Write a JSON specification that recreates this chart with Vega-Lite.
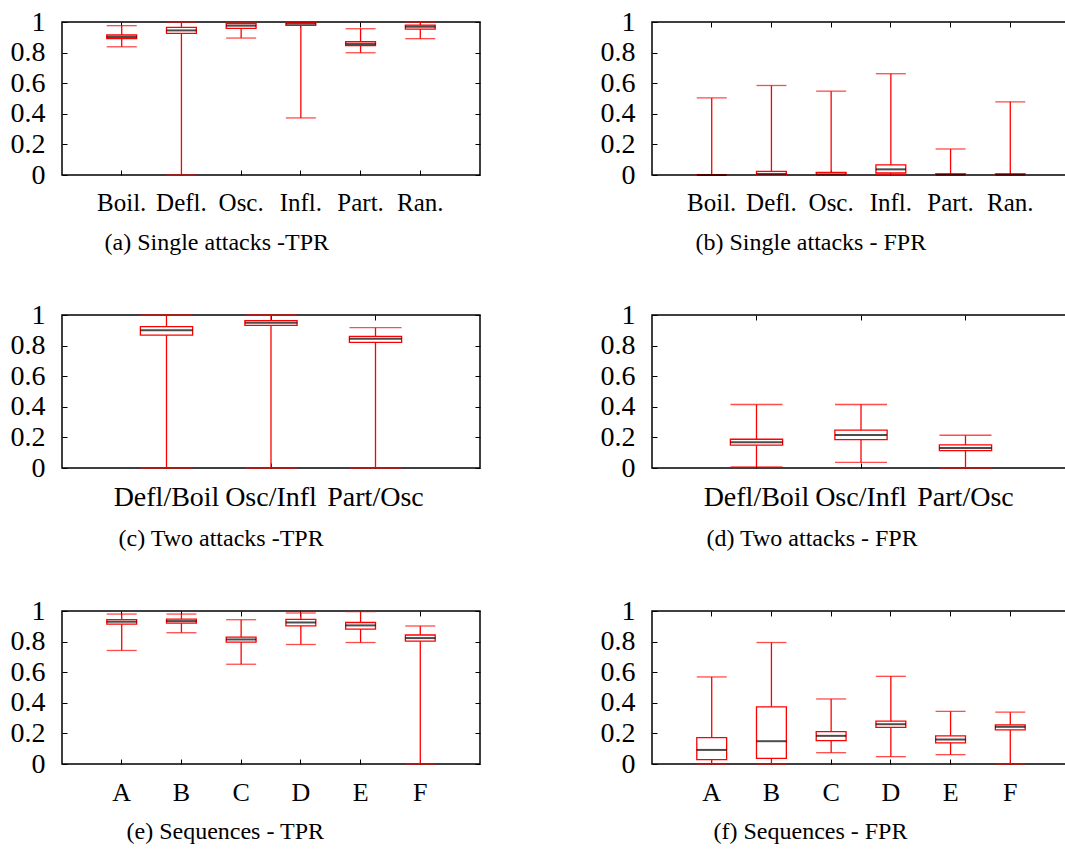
{
  "$schema": "https://vega.github.io/schema/vega-lite/v6.json",
  "padding": {"left": 9, "top": 7, "right": 0, "bottom": 0},
  "background": "white",
  "datasets": {
    "a": [
      {"cat": "Boil.", "lo": 0.838, "q1": 0.891, "med": 0.902, "q3": 0.915, "hi": 0.976},
      {"cat": "Defl.", "lo": 0.0, "q1": 0.926, "med": 0.945, "q3": 0.965, "hi": 1.0},
      {"cat": "Osc.", "lo": 0.895, "q1": 0.958, "med": 0.976, "q3": 0.989, "hi": 1.0},
      {"cat": "Infl.", "lo": 0.373, "q1": 0.978, "med": 0.989, "q3": 0.998, "hi": 1.0},
      {"cat": "Part.", "lo": 0.799, "q1": 0.845, "med": 0.856, "q3": 0.871, "hi": 0.956},
      {"cat": "Ran.", "lo": 0.891, "q1": 0.954, "med": 0.969, "q3": 0.98, "hi": 1.0}
    ],
    "b": [
      {"cat": "Boil.", "lo": 0.0, "q1": 0.0, "med": 0.0, "q3": 0.002, "hi": 0.504},
      {"cat": "Defl.", "lo": 0.0, "q1": 0.0, "med": 0.007, "q3": 0.024, "hi": 0.585},
      {"cat": "Osc.", "lo": 0.0, "q1": 0.0, "med": 0.004, "q3": 0.017, "hi": 0.548},
      {"cat": "Infl.", "lo": 0.004, "q1": 0.013, "med": 0.037, "q3": 0.066, "hi": 0.662},
      {"cat": "Part.", "lo": 0.0, "q1": 0.0, "med": 0.002, "q3": 0.007, "hi": 0.17},
      {"cat": "Ran.", "lo": 0.0, "q1": 0.0, "med": 0.002, "q3": 0.007, "hi": 0.478}
    ],
    "c": [
      {"cat": "Defl/Boil", "lo": 0.0, "q1": 0.869, "med": 0.9, "q3": 0.924, "hi": 1.0},
      {"cat": "Osc/Infl", "lo": 0.0, "q1": 0.932, "med": 0.95, "q3": 0.963, "hi": 1.0},
      {"cat": "Part/Osc", "lo": 0.0, "q1": 0.821, "med": 0.845, "q3": 0.86, "hi": 0.917}
    ],
    "d": [
      {"cat": "Defl/Boil", "lo": 0.007, "q1": 0.149, "med": 0.168, "q3": 0.188, "hi": 0.415},
      {"cat": "Osc/Infl", "lo": 0.037, "q1": 0.186, "med": 0.216, "q3": 0.247, "hi": 0.415},
      {"cat": "Part/Osc", "lo": 0.0, "q1": 0.114, "med": 0.131, "q3": 0.151, "hi": 0.214}
    ],
    "e": [
      {"cat": "A", "lo": 0.742, "q1": 0.914, "med": 0.93, "q3": 0.943, "hi": 0.98},
      {"cat": "B", "lo": 0.858, "q1": 0.921, "med": 0.934, "q3": 0.947, "hi": 0.98},
      {"cat": "C", "lo": 0.652, "q1": 0.796, "med": 0.814, "q3": 0.829, "hi": 0.943},
      {"cat": "D", "lo": 0.781, "q1": 0.903, "med": 0.925, "q3": 0.945, "hi": 0.987},
      {"cat": "E", "lo": 0.794, "q1": 0.882, "med": 0.906, "q3": 0.925, "hi": 0.996},
      {"cat": "F", "lo": 0.0, "q1": 0.803, "med": 0.823, "q3": 0.843, "hi": 0.902}
    ],
    "f": [
      {"cat": "A", "lo": 0.0, "q1": 0.028, "med": 0.092, "q3": 0.173, "hi": 0.569},
      {"cat": "B", "lo": 0.0, "q1": 0.037, "med": 0.149, "q3": 0.374, "hi": 0.794},
      {"cat": "C", "lo": 0.074, "q1": 0.153, "med": 0.184, "q3": 0.212, "hi": 0.425},
      {"cat": "D", "lo": 0.048, "q1": 0.239, "med": 0.26, "q3": 0.28, "hi": 0.573},
      {"cat": "E", "lo": 0.061, "q1": 0.138, "med": 0.16, "q3": 0.184, "hi": 0.344},
      {"cat": "F", "lo": 0.0, "q1": 0.223, "med": 0.243, "q3": 0.256, "hi": 0.339}
    ]
  },
  "config": {
    "view": {"stroke": "black", "strokeWidth": 1.5},
    "axis": {
      "domain": false, "grid": false, "tickColor": "black", "tickSize": -5, "tickWidth": 1,
      "labelFont": "Liberation Serif", "labelFontSize": 26, "labelColor": "black",
      "titleFont": "Liberation Serif", "titleFontSize": 24, "titleFontWeight": "normal", "titleColor": "black",
      "labelOverlap": false, "labelBound": false
    }
  },
  "vconcat": [
    {"hconcat": [
      {"width": 418, "height": 153, "data": {"name": "a"},
       "layer": [
        {"mark": {"type": "rule", "color": "#ff0000", "strokeWidth": 1.3},
         "encoding": {
          "x": {"field": "cat", "type": "nominal", "sort": null, "scale": {"type": "band", "paddingInner": 0.5, "paddingOuter": 0.75},
                "axis": {"orient": "bottom", "title": "(a) Single attacks -TPR", "titleFont": "Liberation Serif", "labelAngle": 0, "labelPadding": 20, "labelFontSize": 25, "titlePadding": 15, "titleAnchor": "start", "titleX": 42}},
          "y": {"field": "lo", "type": "quantitative", "scale": {"domain": [0, 1], "nice": false},
                "axis": {"orient": "left", "values": [0, 0.2, 0.4, 0.6, 0.8, 1], "format": "~g", "title": null, "labelPadding": 22, "labelFontSize": 28}},
          "y2": {"field": "hi"}}},
        {"mark": {"type": "bar", "fill": "white", "stroke": "#ff0000", "strokeWidth": 1.3},
         "encoding": {
          "x": {"field": "cat", "type": "nominal", "sort": null, "axis": {"orient": "top", "labels": false, "title": null}},
          "y": {"field": "q1", "type": "quantitative", "axis": {"orient": "right", "labels": false, "title": null, "values": [0, 0.2, 0.4, 0.6, 0.8, 1]}},
          "y2": {"field": "q3"}}},
        {"mark": {"type": "tick", "color": "#ff0000", "thickness": 1.3, "size": 30},
         "encoding": {"x": {"field": "cat", "type": "nominal", "sort": null, "axis": null}, "y": {"field": "lo", "type": "quantitative", "axis": null}}},
        {"mark": {"type": "tick", "color": "#ff0000", "thickness": 1.3, "size": 30},
         "encoding": {"x": {"field": "cat", "type": "nominal", "sort": null, "axis": null}, "y": {"field": "hi", "type": "quantitative", "axis": null}}},
        {"mark": {"type": "tick", "color": "black", "thickness": 2, "size": 30},
         "encoding": {"x": {"field": "cat", "type": "nominal", "sort": null, "axis": null}, "y": {"field": "med", "type": "quantitative", "axis": null}}}
       ],
       "resolve": {"axis": {"x": "independent", "y": "independent"}}},
      {"width": 418, "height": 153, "data": {"name": "b"},
       "layer": [
        {"mark": {"type": "rule", "color": "#ff0000", "strokeWidth": 1.3},
         "encoding": {
          "x": {"field": "cat", "type": "nominal", "sort": null, "scale": {"type": "band", "paddingInner": 0.5, "paddingOuter": 0.75},
                "axis": {"orient": "bottom", "title": "(b) Single attacks - FPR", "titleFont": "Liberation Serif", "labelAngle": 0, "labelPadding": 20, "labelFontSize": 25, "titlePadding": 15, "titleAnchor": "start", "titleX": 43}},
          "y": {"field": "lo", "type": "quantitative", "scale": {"domain": [0, 1], "nice": false},
                "axis": {"orient": "left", "values": [0, 0.2, 0.4, 0.6, 0.8, 1], "format": "~g", "title": null, "labelPadding": 22, "labelFontSize": 28}},
          "y2": {"field": "hi"}}},
        {"mark": {"type": "bar", "fill": "white", "stroke": "#ff0000", "strokeWidth": 1.3},
         "encoding": {
          "x": {"field": "cat", "type": "nominal", "sort": null, "axis": {"orient": "top", "labels": false, "title": null}},
          "y": {"field": "q1", "type": "quantitative", "axis": {"orient": "right", "labels": false, "title": null, "values": [0, 0.2, 0.4, 0.6, 0.8, 1]}},
          "y2": {"field": "q3"}}},
        {"mark": {"type": "tick", "color": "#ff0000", "thickness": 1.3, "size": 30},
         "encoding": {"x": {"field": "cat", "type": "nominal", "sort": null, "axis": null}, "y": {"field": "lo", "type": "quantitative", "axis": null}}},
        {"mark": {"type": "tick", "color": "#ff0000", "thickness": 1.3, "size": 30},
         "encoding": {"x": {"field": "cat", "type": "nominal", "sort": null, "axis": null}, "y": {"field": "hi", "type": "quantitative", "axis": null}}},
        {"mark": {"type": "tick", "color": "black", "thickness": 2, "size": 30},
         "encoding": {"x": {"field": "cat", "type": "nominal", "sort": null, "axis": null}, "y": {"field": "med", "type": "quantitative", "axis": null}}}
       ],
       "resolve": {"axis": {"x": "independent", "y": "independent"}}}
    ], "spacing": 117},
    {"hconcat": [
      {"width": 418, "height": 153, "data": {"name": "c"},
       "layer": [
        {"mark": {"type": "rule", "color": "#ff0000", "strokeWidth": 1.3},
         "encoding": {
          "x": {"field": "cat", "type": "nominal", "sort": null, "scale": {"type": "band", "paddingInner": 0.5, "paddingOuter": 0.75},
                "axis": {"orient": "bottom", "title": "(c) Two attacks -TPR", "titleFont": "Liberation Serif", "labelAngle": 0, "labelPadding": 20, "labelFontSize": 28, "titlePadding": 15, "titleAnchor": "start", "titleX": 56}},
          "y": {"field": "lo", "type": "quantitative", "scale": {"domain": [0, 1], "nice": false},
                "axis": {"orient": "left", "values": [0, 0.2, 0.4, 0.6, 0.8, 1], "format": "~g", "title": null, "labelPadding": 22, "labelFontSize": 28}},
          "y2": {"field": "hi"}}},
        {"mark": {"type": "bar", "fill": "white", "stroke": "#ff0000", "strokeWidth": 1.3},
         "encoding": {
          "x": {"field": "cat", "type": "nominal", "sort": null, "axis": {"orient": "top", "labels": false, "title": null}},
          "y": {"field": "q1", "type": "quantitative", "axis": {"orient": "right", "labels": false, "title": null, "values": [0, 0.2, 0.4, 0.6, 0.8, 1]}},
          "y2": {"field": "q3"}}},
        {"mark": {"type": "tick", "color": "#ff0000", "thickness": 1.3, "size": 52},
         "encoding": {"x": {"field": "cat", "type": "nominal", "sort": null, "axis": null}, "y": {"field": "lo", "type": "quantitative", "axis": null}}},
        {"mark": {"type": "tick", "color": "#ff0000", "thickness": 1.3, "size": 52},
         "encoding": {"x": {"field": "cat", "type": "nominal", "sort": null, "axis": null}, "y": {"field": "hi", "type": "quantitative", "axis": null}}},
        {"mark": {"type": "tick", "color": "black", "thickness": 2, "size": 52},
         "encoding": {"x": {"field": "cat", "type": "nominal", "sort": null, "axis": null}, "y": {"field": "med", "type": "quantitative", "axis": null}}}
       ],
       "resolve": {"axis": {"x": "independent", "y": "independent"}}},
      {"width": 418, "height": 153, "data": {"name": "d"},
       "layer": [
        {"mark": {"type": "rule", "color": "#ff0000", "strokeWidth": 1.3},
         "encoding": {
          "x": {"field": "cat", "type": "nominal", "sort": null, "scale": {"type": "band", "paddingInner": 0.5, "paddingOuter": 0.75},
                "axis": {"orient": "bottom", "title": "(d) Two attacks - FPR", "titleFont": "Liberation Serif", "labelAngle": 0, "labelPadding": 20, "labelFontSize": 28, "titlePadding": 15, "titleAnchor": "start", "titleX": 54}},
          "y": {"field": "lo", "type": "quantitative", "scale": {"domain": [0, 1], "nice": false},
                "axis": {"orient": "left", "values": [0, 0.2, 0.4, 0.6, 0.8, 1], "format": "~g", "title": null, "labelPadding": 22, "labelFontSize": 28}},
          "y2": {"field": "hi"}}},
        {"mark": {"type": "bar", "fill": "white", "stroke": "#ff0000", "strokeWidth": 1.3},
         "encoding": {
          "x": {"field": "cat", "type": "nominal", "sort": null, "axis": {"orient": "top", "labels": false, "title": null}},
          "y": {"field": "q1", "type": "quantitative", "axis": {"orient": "right", "labels": false, "title": null, "values": [0, 0.2, 0.4, 0.6, 0.8, 1]}},
          "y2": {"field": "q3"}}},
        {"mark": {"type": "tick", "color": "#ff0000", "thickness": 1.3, "size": 52},
         "encoding": {"x": {"field": "cat", "type": "nominal", "sort": null, "axis": null}, "y": {"field": "lo", "type": "quantitative", "axis": null}}},
        {"mark": {"type": "tick", "color": "#ff0000", "thickness": 1.3, "size": 52},
         "encoding": {"x": {"field": "cat", "type": "nominal", "sort": null, "axis": null}, "y": {"field": "hi", "type": "quantitative", "axis": null}}},
        {"mark": {"type": "tick", "color": "black", "thickness": 2, "size": 52},
         "encoding": {"x": {"field": "cat", "type": "nominal", "sort": null, "axis": null}, "y": {"field": "med", "type": "quantitative", "axis": null}}}
       ],
       "resolve": {"axis": {"x": "independent", "y": "independent"}}}
    ], "spacing": 117},
    {"hconcat": [
      {"width": 418, "height": 153, "data": {"name": "e"},
       "layer": [
        {"mark": {"type": "rule", "color": "#ff0000", "strokeWidth": 1.3},
         "encoding": {
          "x": {"field": "cat", "type": "nominal", "sort": null, "scale": {"type": "band", "paddingInner": 0.5, "paddingOuter": 0.75},
                "axis": {"orient": "bottom", "title": "(e) Sequences - TPR", "titleFont": "Liberation Serif", "labelAngle": 0, "labelPadding": 20, "titlePadding": 14, "titleAnchor": "start", "titleX": 64}},
          "y": {"field": "lo", "type": "quantitative", "scale": {"domain": [0, 1], "nice": false},
                "axis": {"orient": "left", "values": [0, 0.2, 0.4, 0.6, 0.8, 1], "format": "~g", "title": null, "labelPadding": 22, "labelFontSize": 28}},
          "y2": {"field": "hi"}}},
        {"mark": {"type": "bar", "fill": "white", "stroke": "#ff0000", "strokeWidth": 1.3},
         "encoding": {
          "x": {"field": "cat", "type": "nominal", "sort": null, "axis": {"orient": "top", "labels": false, "title": null}},
          "y": {"field": "q1", "type": "quantitative", "axis": {"orient": "right", "labels": false, "title": null, "values": [0, 0.2, 0.4, 0.6, 0.8, 1]}},
          "y2": {"field": "q3"}}},
        {"mark": {"type": "tick", "color": "#ff0000", "thickness": 1.3, "size": 30},
         "encoding": {"x": {"field": "cat", "type": "nominal", "sort": null, "axis": null}, "y": {"field": "lo", "type": "quantitative", "axis": null}}},
        {"mark": {"type": "tick", "color": "#ff0000", "thickness": 1.3, "size": 30},
         "encoding": {"x": {"field": "cat", "type": "nominal", "sort": null, "axis": null}, "y": {"field": "hi", "type": "quantitative", "axis": null}}},
        {"mark": {"type": "tick", "color": "black", "thickness": 2, "size": 30},
         "encoding": {"x": {"field": "cat", "type": "nominal", "sort": null, "axis": null}, "y": {"field": "med", "type": "quantitative", "axis": null}}}
       ],
       "resolve": {"axis": {"x": "independent", "y": "independent"}}},
      {"width": 418, "height": 153, "data": {"name": "f"},
       "layer": [
        {"mark": {"type": "rule", "color": "#ff0000", "strokeWidth": 1.3},
         "encoding": {
          "x": {"field": "cat", "type": "nominal", "sort": null, "scale": {"type": "band", "paddingInner": 0.5, "paddingOuter": 0.75},
                "axis": {"orient": "bottom", "title": "(f) Sequences - FPR", "titleFont": "Liberation Serif", "labelAngle": 0, "labelPadding": 20, "titlePadding": 14, "titleAnchor": "start", "titleX": 61}},
          "y": {"field": "lo", "type": "quantitative", "scale": {"domain": [0, 1], "nice": false},
                "axis": {"orient": "left", "values": [0, 0.2, 0.4, 0.6, 0.8, 1], "format": "~g", "title": null, "labelPadding": 22, "labelFontSize": 28}},
          "y2": {"field": "hi"}}},
        {"mark": {"type": "bar", "fill": "white", "stroke": "#ff0000", "strokeWidth": 1.3},
         "encoding": {
          "x": {"field": "cat", "type": "nominal", "sort": null, "axis": {"orient": "top", "labels": false, "title": null}},
          "y": {"field": "q1", "type": "quantitative", "axis": {"orient": "right", "labels": false, "title": null, "values": [0, 0.2, 0.4, 0.6, 0.8, 1]}},
          "y2": {"field": "q3"}}},
        {"mark": {"type": "tick", "color": "#ff0000", "thickness": 1.3, "size": 30},
         "encoding": {"x": {"field": "cat", "type": "nominal", "sort": null, "axis": null}, "y": {"field": "lo", "type": "quantitative", "axis": null}}},
        {"mark": {"type": "tick", "color": "#ff0000", "thickness": 1.3, "size": 30},
         "encoding": {"x": {"field": "cat", "type": "nominal", "sort": null, "axis": null}, "y": {"field": "hi", "type": "quantitative", "axis": null}}},
        {"mark": {"type": "tick", "color": "black", "thickness": 2, "size": 30},
         "encoding": {"x": {"field": "cat", "type": "nominal", "sort": null, "axis": null}, "y": {"field": "med", "type": "quantitative", "axis": null}}}
       ],
       "resolve": {"axis": {"x": "independent", "y": "independent"}}}
    ], "spacing": 117}
  ],
  "spacing": 45
}
